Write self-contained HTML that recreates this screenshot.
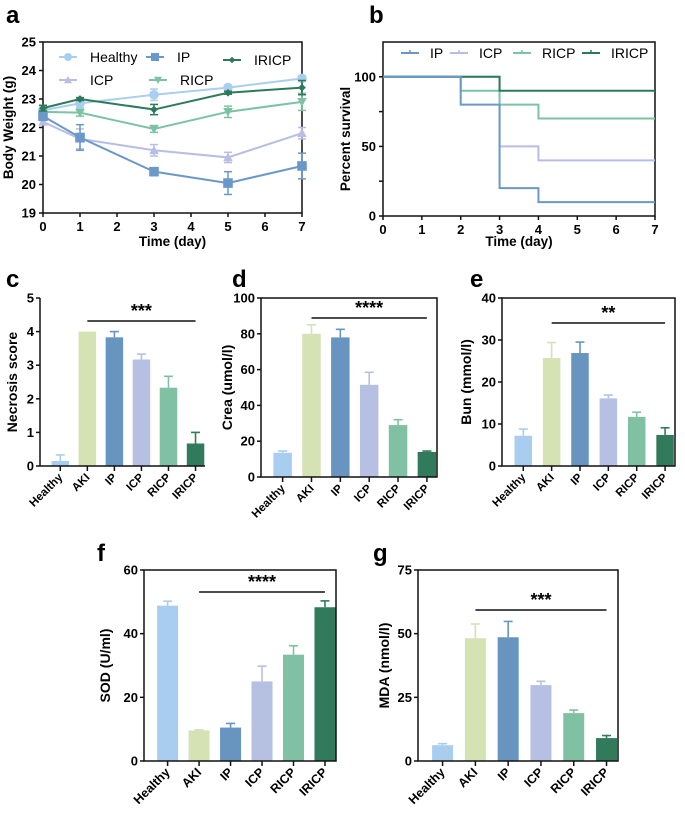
<!DOCTYPE html>
<html><head><meta charset="utf-8">
<style>
html,body{margin:0;padding:0;background:#fff;}
svg{display:block;font-family:"Liberation Sans",Arial,sans-serif;font-weight:bold;}
</style></head>
<body>
<svg id="fig" width="685" height="821" viewBox="0 0 685 821" xmlns="http://www.w3.org/2000/svg"></svg>
<script>
// ---- Panel a data ----
const aDays = [0, 1, 3, 5, 7];
const aHealthy = [22.6, 22.85, 23.15, 23.4, 23.72];
const aHealthyErr = [0.15, 0.15, 0.2, 0.08, 0.1];
const aIP = [22.4, 21.65, 20.45, 20.05, 20.65];
const aIPErr = [0.15, 0.45, 0.1, 0.4, 0.45];
const aICP = [22.2, 21.6, 21.2, 20.95, 21.8];
const aICPErr = [0.1, 0.35, 0.2, 0.18, 0.2];
const aRICP = [22.55, 22.52, 21.95, 22.55, 22.9];
const aRICPErr = [0.1, 0.12, 0.12, 0.2, 0.3];
const aIRICP = [22.68, 23.0, 22.63, 23.22, 23.4];
const aIRICPErr = [0.1, 0.05, 0.18, 0.05, 0.25];
const aYTicks = [19, 20, 21, 22, 23, 24, 25];
const aXTicks = [0, 1, 2, 3, 4, 5, 6, 7];
// ---- Panel b data ----
const bTimes = [0, 2, 3, 4, 7];
const bIP = [100, 80, 20, 10, 10];
const bICP = [100, 100, 50, 40, 40];
const bRICP = [100, 90, 80, 70, 70];
const bIRICP = [100, 100, 90, 90, 90];
const bYTicks = [0, 50, 100];
// ---- Bar panels ----
const groups = ["Healthy", "AKI", "IP", "ICP", "RICP", "IRICP"];
const cVals = [0.15, 4.0, 3.83, 3.17, 2.33, 0.67];
const cErr = [0.18, 0, 0.17, 0.16, 0.34, 0.33];
const cTicks = [0, 1, 2, 3, 4, 5];
const dVals = [13.5, 80, 78, 51.5, 29, 14];
const dErr = [1, 5, 4.5, 7, 3, 0.5];
const dTicks = [0, 20, 40, 60, 80, 100];
const eVals = [7.2, 25.7, 26.9, 16.1, 11.7, 7.4];
const eErr = [1.6, 3.7, 2.6, 0.8, 1.1, 1.7];
const eTicks = [0, 10, 20, 30, 40];
const fVals = [48.8, 9.6, 10.5, 25, 33.4, 48.3];
const fErr = [1.4, 0.2, 1.3, 4.8, 2.8, 2.0];
const fTicks = [0, 20, 40, 60];
const gVals = [6.2, 48.2, 48.6, 29.8, 18.8, 9.0];
const gErr = [0.6, 5.6, 6.2, 1.5, 1.2, 1.0];
const gTicks = [0, 25, 50, 75];

const barColors = ["#a8cdee", "#d5e2b4", "#6895c0", "#b6c0e3", "#80c0a3", "#317a5c"];
const NS = "http://www.w3.org/2000/svg";
const fig = document.getElementById("fig");

function mk(tag, attrs, parent, text) {
  const e = document.createElementNS(NS, tag);
  for (const k in attrs) e.setAttribute(k, attrs[k]);
  if (text !== undefined) e.textContent = text;
  (parent || fig).appendChild(e);
  return e;
}
function line(x1, y1, x2, y2, stroke, w, p) { return mk("line", {x1, y1, x2, y2, stroke, "stroke-width": w}, p); }

// ---------- Panel a ----------
(function () {
  const g = mk("g", {});
  
  
  const L = 43, R = 302, T = 42, B = 213;
  const x = d => L + (d - 0) / 7 * (R - L);
  const y = v => B - (v - 19) / 6 * (B - T);
  const lt = mk("text", {x: 6, y: 23, "font-size": 24}, g, "a");
   
  mk("rect", {x: L, y: T, width: R - L, height: B - T, fill: "none", stroke: "#111", "stroke-width": 1.5}, g);
  aYTicks.forEach(v => {
    line(L - 4, y(v), L, y(v), "#111", 1.5, g);
    mk("text", {x: L - 7, y: y(v) + 4.5, "font-size": 13, "text-anchor": "end"}, g, v);
  });
  aXTicks.forEach(v => {
    line(x(v), B, x(v), B + 4, "#111", 1.5, g);
    mk("text", {x: x(v), y: B + 18, "font-size": 13, "text-anchor": "middle"}, g, v);
  });
  const xt = mk("text", {x: (L + R) / 2, y: 246, "font-size": 13.5, "text-anchor": "middle"}, g, "Time (day)");
   
  const yt = mk("text", {x: 0, y: 0, "font-size": 13.5, "text-anchor": "middle", transform: `translate(13,${(T + B) / 2}) rotate(-90)`}, g, "Body Weight (g)");
   
  const series = [
    ["Healthy", aHealthy, aHealthyErr, "#a9cff0", "circle"],
    ["ICP", aICP, aICPErr, "#b7bde4", "tri"],
    ["RICP", aRICP, aRICPErr, "#7cc3a3", "tridown"],
    ["IP", aIP, aIPErr, "#6a98c8", "square"],
    ["IRICP", aIRICP, aIRICPErr, "#2d7a5a", "diamond"]
  ];
  function marker(px, py, shape, col, p, s) {
    s = s || 4.8;
    if (shape === "circle") return mk("circle", {cx: px, cy: py, r: s, fill: col}, p);
    if (shape === "square") return mk("rect", {x: px - s, y: py - s, width: 2 * s, height: 2 * s, fill: col}, p);
    if (shape === "tri") return mk("polygon", {points: `${px},${py - s} ${px - s},${py + s * 0.8} ${px + s},${py + s * 0.8}`, fill: col}, p);
    if (shape === "tridown") return mk("polygon", {points: `${px},${py + s} ${px - s},${py - s * 0.8} ${px + s},${py - s * 0.8}`, fill: col}, p);
    if (shape === "diamond") return mk("polygon", {points: `${px},${py - s * 0.8} ${px + s * 0.8},${py} ${px},${py + s * 0.8} ${px - s * 0.8},${py}`, fill: col}, p);
  }
  series.forEach(([name, vals, errs, col, shape]) => {
    const sg = mk("g", {}, g);
    
    
    mk("polyline", {points: aDays.map((d, i) => `${x(d)},${y(vals[i])}`).join(" "), fill: "none", stroke: col, "stroke-width": 2}, sg);
    aDays.forEach((d, i) => {
      const px = x(d);
      line(px, y(vals[i] - errs[i]), px, y(vals[i] + errs[i]), col, 1.5, sg);
      line(px - 4, y(vals[i] + errs[i]), px + 4, y(vals[i] + errs[i]), col, 1.5, sg);
      line(px - 4, y(vals[i] - errs[i]), px + 4, y(vals[i] - errs[i]), col, 1.5, sg);
      const m = marker(px, y(vals[i]), shape, col, sg);
      
      
    });
  });
  const leg = [["Healthy", 68, 57, "#a9cff0", "circle"], ["IP", 155, 57, "#6a98c8", "square"], ["IRICP", 232, 60, "#2d7a5a", "diamond"],
               ["ICP", 68, 80, "#b7bde4", "tri"], ["RICP", 158, 80, "#7cc3a3", "tridown"]];
  leg.forEach(([n, lx, ly, col, shape]) => {
    const lg = mk("g", {}, g);
    
    
    line(lx - 9, ly, lx + 9, ly, col, 2, lg);
    marker(lx, ly, shape, col, lg, 4);
    mk("text", {x: lx + 22, y: ly + 5, "font-size": 14, "font-weight": "normal"}, lg, n);
  });
})();

// ---------- Panel b ----------
(function () {
  const g = mk("g", {});
  
  
  const L = 383, R = 655, T = 42, B = 216;
  const x = d => L + d / 7 * (R - L);
  const y = v => B - v / 125 * (B - T);
  const lt = mk("text", {x: 369, y: 23, "font-size": 24}, g, "b");
   
  mk("rect", {x: L, y: T, width: R - L, height: B - T, fill: "none", stroke: "#111", "stroke-width": 1.5}, g);
  [0, 25, 50, 75, 100].forEach(v => line(L - 4, y(v), L, y(v), "#111", 1.5, g));
  bYTicks.forEach(v => mk("text", {x: L - 7, y: y(v) + 4.5, "font-size": 13, "text-anchor": "end"}, g, v));
  for (let d = 0; d <= 7; d++) {
    line(x(d), B, x(d), B + 4, "#111", 1.5, g);
    mk("text", {x: x(d), y: B + 18, "font-size": 13, "text-anchor": "middle"}, g, d);
  }
  const xt = mk("text", {x: (L + R) / 2, y: 246, "font-size": 13.5, "text-anchor": "middle"}, g, "Time (day)");
   
  const yt = mk("text", {x: 0, y: 0, "font-size": 13.5, "text-anchor": "middle", transform: `translate(350,${(T + B) / 2 + 10}) rotate(-90)`}, g, "Percent survival");
   
  const ser = [["ICP", bICP, "#b7bde4"], ["RICP", bRICP, "#7cc3a3"], ["IRICP", bIRICP, "#2d7a5a"], ["IP", bIP, "#6a98c8"]];
  ser.forEach(([n, vals, col]) => {
    let pts = [];
    for (let i = 0; i < bTimes.length; i++) {
      if (i > 0) pts.push(`${x(bTimes[i])},${y(vals[i - 1])}`);
      pts.push(`${x(bTimes[i])},${y(vals[i])}`);
    }
    const p = mk("polyline", {points: pts.join(" "), fill: "none", stroke: col, "stroke-width": 2}, g);
    
    
  });
  const leg = [["IP", 401, "#6a98c8"], ["ICP", 450, "#b7bde4"], ["RICP", 513, "#7cc3a3"], ["IRICP", 582, "#2d7a5a"]];
  leg.forEach(([n, lx, col]) => {
    const lg = mk("g", {}, g);
    
    
    line(lx, 53, lx + 18, 53, col, 2, lg);
    line(lx + 9, 50, lx + 9, 53, col, 1.5, lg);
    mk("text", {x: lx + 29, y: 58, "font-size": 14, "font-weight": "normal"}, lg, n);
  });
})();

// ---------- Bar panels ----------
function barPanel(o) {
  const g = mk("g", {});
  
  
  const {L, R, T, B, max, vals, errs, ticks} = o;
  const y = v => B - v / max * (B - T);
  const n = groups.length;
  const step = (R - L) / (n + 0.1);
  const x = i => L + step * (i + 0.75);
  const lt = mk("text", {x: o.lx, y: o.ly, "font-size": 24}, g, o.letter);
   
  vals.forEach((v, i) => {
    const cx = x(i), col = barColors[i];
    const e = errs[i];
    if (e > 0) {
      line(cx, y(v), cx, y(v + e), col, 1.6, g);
      line(cx - 4.5, y(v + e), cx + 4.5, y(v + e), col, 1.6, g);
    }
    const r = mk("rect", {x: cx - o.bw / 2, y: y(v), width: o.bw, height: B - y(v), fill: col}, g);
    
    
  });
  if (o.box) {
    mk("rect", {x: L, y: T, width: R - L, height: B - T, fill: "none", stroke: "#111", "stroke-width": 1.5}, g);
  } else {
    line(L, T, L, B, "#111", 1.5, g);
    line(L, B, R, B, "#111", 1.5, g);
  }
  ticks.forEach(v => {
    line(L - 4, y(v), L, y(v), "#111", 1.5, g);
    mk("text", {x: L - 6, y: y(v) + 4.5, "font-size": 13, "text-anchor": "end"}, g, v);
  });
  groups.forEach((name, i) => {
    line(x(i), B, x(i), B + 5, "#111", 1.5, g);
    const t = mk("text", {x: 0, y: 0, "font-size": o.fs, "text-anchor": "end", transform: `translate(${x(i) + 3},${B + 12}) rotate(-45)`}, g, name);
    
    
  });
  const yt = mk("text", {x: 0, y: 0, "font-size": 14, "text-anchor": "middle", transform: `translate(${o.tx},${(T + B) / 2}) rotate(-90)`}, g, o.title);
   
  const sl = line(x(1), o.sigY, x(5), o.sigY, "#111", 1.6, g);
   
  const st = mk("text", {x: (x(1) + x(5)) / 2, y: o.sigY - 4, "font-size": 18, "text-anchor": "middle"}, g, o.stars);
   
}

barPanel({name: "panel-c-necrosis", letter: "c", lx: 6, ly: 287, L: 40, R: 205, T: 298, B: 466, max: 5, vals: cVals, errs: cErr, ticks: cTicks, bw: 17.5, fs: 11.5, tx: 17, title: "Necrosis score", sigY: 321, stars: "***", box: false});
barPanel({name: "panel-d-crea", letter: "d", lx: 232, ly: 287, L: 261, R: 437, T: 298, B: 477, max: 100, vals: dVals, errs: dErr, ticks: dTicks, bw: 18.5, fs: 11.5, tx: 232, title: "Crea (umol/l)", sigY: 318, stars: "****", box: true});
barPanel({name: "panel-e-bun", letter: "e", lx: 470, ly: 287, L: 502, R: 675, T: 298, B: 466, max: 40, vals: eVals, errs: eErr, ticks: eTicks, bw: 17.5, fs: 11.5, tx: 471, title: "Bun (mmol/l)", sigY: 323, stars: "**", box: true});
barPanel({name: "panel-f-sod", letter: "f", lx: 97, ly: 561, L: 144, R: 336, T: 570, B: 761, max: 60, vals: fVals, errs: fErr, ticks: fTicks, bw: 21, fs: 12.5, tx: 110, title: "SOD (U/ml)", sigY: 592, stars: "****", box: true});
barPanel({name: "panel-g-mda", letter: "g", lx: 373, ly: 561, L: 418, R: 618, T: 570, B: 761, max: 75, vals: gVals, errs: gErr, ticks: gTicks, bw: 21, fs: 12.5, tx: 389, title: "MDA (nmol/l)", sigY: 610, stars: "***", box: true});
</script>
</body></html>
